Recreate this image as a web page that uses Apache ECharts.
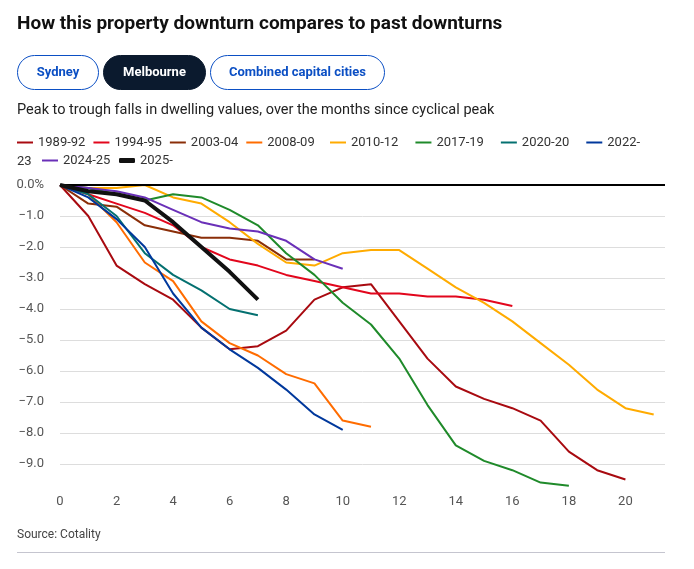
<!DOCTYPE html>
<html>
<head>
<meta charset="utf-8">
<script src="https://cdn.jsdelivr.net/npm/echarts@6/dist/echarts.min.js"></script>
<style>
  html, body { margin: 0; padding: 0; background: #fff; }
  body { width: 694px; height: 569px; position: relative; overflow: hidden; font-family: Roboto, "Noto Sans", sans-serif; }
  #chart { position: absolute; left: 0; top: 0; width: 694px; height: 569px; }
  .title { position: absolute; left: 17px; top: 11px; font-size: 19px; font-weight: 700; color: #111; z-index: 2; }
  .pill { position: absolute; top: 55px; height: 35px; box-sizing: border-box; border: 1.5px solid #0b4fc4; border-radius: 18px;
          color: #0b4fc4; font-size: 13px; font-weight: 700; line-height: 32px; text-align: center; z-index: 2; }
  .pill.on { background: #0b1a2e; border-color: #0b1a2e; color: #fff; }
  .sub { position: absolute; left: 17px; top: 101px; font-size: 14.5px; color: #222; z-index: 2; }
  .src { position: absolute; left: 17px; top: 527px; font-size: 12px; color: #444; z-index: 2; }
  .rule { position: absolute; left: 17px; top: 552px; width: 648px; height: 1px; background: #c5c5cf; z-index: 2; }
</style>
</head>
<body>
<div id="chart"></div>
<div class="title">How this property downturn compares to past downturns</div>
<div class="pill" style="left:17px;width:82px;">Sydney</div>
<div class="pill on" style="left:103px;width:103px;">Melbourne</div>
<div class="pill" style="left:210px;width:175px;">Combined capital cities</div>
<div class="sub">Peak to trough falls in dwelling values, over the months since cyclical peak</div>
<div class="src">Source: Cotality</div>
<div class="rule"></div>
<script>
// months since cyclical peak
var months = [0, 1, 2, 3, 4, 5, 6, 7, 8, 9, 10, 11, 12, 13, 14, 15, 16, 17, 18, 19, 20, 21];
var xTicks = [0, 2, 4, 6, 8, 10, 12, 14, 16, 18, 20];
var yTicks = [0, -1, -2, -3, -4, -5, -6, -7, -8, -9];

// % change from peak, one value per month
var s1989 = [0, -1.0, -2.6, -3.2, -3.7, -4.6, -5.3, -5.2, -4.7, -3.7, -3.3, -3.2, -4.4, -5.6, -6.5, -6.9, -7.2, -7.6, -8.6, -9.2, -9.5];
var s1994 = [0, -0.3, -0.6, -0.9, -1.3, -2.0, -2.4, -2.6, -2.9, -3.1, -3.3, -3.5, -3.5, -3.6, -3.6, -3.7, -3.9];
var s2003 = [0, -0.6, -0.7, -1.3, -1.5, -1.7, -1.7, -1.8, -2.4, -2.4];
var s2008 = [0, -0.3, -1.2, -2.5, -3.1, -4.4, -5.1, -5.5, -6.1, -6.4, -7.6, -7.8];
var s2010 = [0, -0.1, -0.1, 0.0, -0.4, -0.6, -1.2, -1.9, -2.5, -2.6, -2.2, -2.1, -2.1, -2.7, -3.3, -3.8, -4.4, -5.1, -5.8, -6.6, -7.2, -7.4];
var s2017 = [0, -0.1, -0.3, -0.5, -0.3, -0.4, -0.8, -1.3, -2.2, -2.9, -3.8, -4.5, -5.6, -7.1, -8.4, -8.9, -9.2, -9.6, -9.7];
var s2020 = [0, -0.3, -1.0, -2.2, -2.9, -3.4, -4.0, -4.2];
var s2022 = [0, -0.4, -1.1, -2.0, -3.5, -4.6, -5.3, -5.9, -6.6, -7.4, -7.9];
var s2024 = [0, -0.1, -0.2, -0.4, -0.8, -1.2, -1.4, -1.5, -1.8, -2.4, -2.7];
var s2025 = [0, -0.2, -0.3, -0.5, -1.2, -2.0, -2.8, -3.7];

var names = ['1989-92', '1994-95', '2003-04', '2008-09', '2010-12', '2017-19', '2020-20', '2022-23', '2024-25', '2025-'];
var values = [s1989, s1994, s2003, s2008, s2010, s2017, s2020, s2022, s2024, s2025];
var colors = ['#a80a10', '#e2061c', '#8a2e08', '#ff6c00', '#ffab00', '#1f8a2a', '#047070', '#00389c', '#6a30b8', '#111111'];

var font = 'Roboto, "Noto Sans", sans-serif';

var chart = echarts.init(document.getElementById('chart'));

var series = names.map(function (n, i) {
  var isNow = n === '2025-';
  var s = {
    name: n,
    type: 'line',
    symbol: 'none',
    z: isNow ? 5 : 2,
    lineStyle: { width: isNow ? 4 : 2, color: colors[i] },
    itemStyle: { color: colors[i] },
    emphasis: { disabled: true },
    data: values[i].map(function (v, k) { return [months[k], v]; })
  };
  if (i === 0) {
    s.markLine = {
      silent: true, symbol: 'none', label: { show: false },
      lineStyle: { color: '#000', width: 2, type: 'solid' },
      data: [{ yAxis: 0 }]
    };
  }
  return s;
});

var legendText = { fontSize: 13, color: '#333', fontFamily: font };
function legendRow(left, top, data, h, icon, gap) {
  return {
    left: left, top: top, padding: 0, itemWidth: 16, itemHeight: h, itemGap: gap || 8,
    icon: icon, textStyle: legendText, data: data,
    formatter: function (n) { return n === '2022-23' ? '2022-' : n; }
  };
}

chart.setOption({
  animation: false,
  grid: { left: 60, right: 29, top: 185, bottom: 74 },
  legend: [
    legendRow(17, 136, names.slice(0, 4), 2, 'rect'),
    legendRow(330, 136, names.slice(4, 8), 2, 'rect', 17),
    legendRow(42, 154, ['2024-25'], 2, 'rect'),
    legendRow(119, 154, ['2025-'], 5, 'roundRect')
  ],
  graphic: [
    { type: 'text', left: 17, top: 155, style: { text: '23', fontSize: 13, fill: '#333', fontFamily: font } }
  ],
  xAxis: {
    type: 'value', min: 0, max: 21.4, interval: 2,
    axisLine: { show: false }, axisTick: { show: false }, splitLine: { show: false },
    axisLabel: {
      fontSize: 13, color: '#555', fontFamily: font, margin: 0, showMaxLabel: false,
      formatter: function (v) { return xTicks.indexOf(v) >= 0 ? String(v) : ''; }
    }
  },
  yAxis: {
    type: 'value', min: -10, max: 0, interval: 1,
    axisLine: { show: false }, axisTick: { show: false },
    splitLine: { lineStyle: { color: ['rgba(0,0,0,0)', '#dddddd', '#dddddd', '#dddddd', '#dddddd', '#dddddd', '#dddddd', '#dddddd', '#dddddd', '#dddddd', '#dddddd'], width: 1 } },
    axisLabel: {
      fontSize: 13, color: '#555', fontFamily: font, margin: 16,
      formatter: function (v) {
        if (yTicks.indexOf(v) < 0) return '';
        return v === 0 ? '0.0%' : '\u2212' + Math.abs(v).toFixed(1);
      }
    }
  },
  series: series
});
</script>
</body>
</html>
